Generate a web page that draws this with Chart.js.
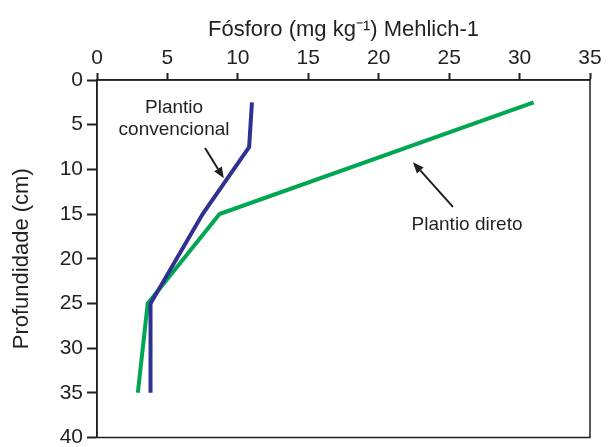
<!DOCTYPE html>
<html>
<head>
<meta charset="utf-8">
<script src="https://cdn.jsdelivr.net/npm/chart.js@4"></script>
<style>
  html, body { margin: 0; padding: 0; background: #fff; overflow: hidden; }
  #wrap { width: 608px; height: 452px; position: relative; }
</style>
</head>
<body>
<div id="wrap"><canvas id="chart"></canvas></div>
<script>
  // depth (cm) and phosphorus (mg/kg)
  const depthConv = [2.5, 7.5, 15, 25, 35];
  const phosConv = [11.0, 10.8, 7.5, 3.8, 3.8];
  const depthDireto = [2.5, 15, 25, 35];
  const phosDireto = [31.0, 8.7, 3.6, 2.9];
  const xTicks = [0, 5, 10, 15, 20, 25, 30, 35];
  const yTicks = [0, 5, 10, 15, 20, 25, 30, 35, 40];

  const ink = '#231f20';
  const blue = '#2e3192';
  const green = '#00a651';
  const font = '"Liberation Sans", Arial, sans-serif';

  // annotation text and arrows, in data units
  const labels = [
    { text: 'Plantio', x: 5.47, y: 3.1 },
    { text: 'convencional', x: 5.47, y: 5.6 },
    { text: 'Plantio direto', x: 26.27, y: 16.25 },
  ];
  const arrows = [
    { x0: 7.67, y0: 7.6, x1: 9.0, y1: 11.0 },
    { x0: 25.27, y0: 14.2, x1: 22.43, y1: 9.2 },
  ];

  function toPoints(xs, ys) {
    return xs.map((v, i) => ({ x: v, y: ys[i] }));
  }

  const frame = {
    id: 'frame',
    afterDatasetsDraw(chart) {
      const { ctx, chartArea: a, scales } = chart;
      const sx = scales.x, sy = scales.y;
      ctx.save();
      ctx.strokeStyle = ink;
      ctx.lineWidth = 1.5;
      ctx.strokeRect(a.left, a.top, a.right - a.left, a.bottom - a.top);

      ctx.fillStyle = ink;
      ctx.font = '19px ' + font;
      ctx.textAlign = 'center';
      ctx.textBaseline = 'middle';
      labels.forEach(l => ctx.fillText(l.text, sx.getPixelForValue(l.x), sy.getPixelForValue(l.y)));

      ctx.lineWidth = 2;
      arrows.forEach(ar => {
        const x0 = sx.getPixelForValue(ar.x0), y0 = sy.getPixelForValue(ar.y0);
        const x1 = sx.getPixelForValue(ar.x1), y1 = sy.getPixelForValue(ar.y1);
        const ang = Math.atan2(y1 - y0, x1 - x0);
        const len = 11, half = 4.5;
        const bx = x1 - len * Math.cos(ang), by = y1 - len * Math.sin(ang);
        ctx.beginPath();
        ctx.moveTo(x0, y0);
        ctx.lineTo(bx, by);
        ctx.stroke();
        ctx.beginPath();
        ctx.moveTo(x1, y1);
        ctx.lineTo(bx + half * Math.sin(ang), by - half * Math.cos(ang));
        ctx.lineTo(bx - half * Math.sin(ang), by + half * Math.cos(ang));
        ctx.closePath();
        ctx.fill();
      });
      ctx.restore();
    }
  };

  new Chart(document.getElementById('chart'), {
    type: 'line',
    data: {
      datasets: [
        {
          label: 'Plantio convencional',
          data: toPoints(phosConv, depthConv),
          borderColor: blue,
          borderWidth: 4,
          pointRadius: 0,
          fill: false,
          tension: 0,
        },
        {
          label: 'Plantio direto',
          data: toPoints(phosDireto, depthDireto),
          borderColor: green,
          borderWidth: 4,
          pointRadius: 0,
          fill: false,
          tension: 0,
        },
      ],
    },
    options: {
      responsive: true,
      maintainAspectRatio: false,
      animation: false,
      layout: { padding: { left: 0, right: 18, top: 0, bottom: 0 } },
      plugins: {
        legend: { display: false },
        tooltip: { enabled: false },
      },
      scales: {
        x: {
          type: 'linear',
          position: 'top',
          min: 0,
          max: 35,
          afterFit(scale) { scale.height = 80; },
          afterBuildTicks(scale) { scale.ticks = xTicks.map(v => ({ value: v })); },
          grid: { drawOnChartArea: false, drawTicks: true, tickLength: 7, tickWidth: 2, tickColor: ink },
          border: { display: true, color: ink, width: 1.5 },
          ticks: { color: ink, padding: 2, maxRotation: 0, font: { family: font, size: 21 } },
          title: {
            display: true,
            text: 'Fósforo (mg kg⁻¹) Mehlich-1',
            color: ink,
            padding: { top: 17, bottom: 0 },
            font: { family: font, size: 22 },
          },
        },
        y: {
          type: 'linear',
          reverse: true,
          min: 0,
          max: 40,
          afterFit(scale) { scale.width = 97; },
          afterBuildTicks(scale) { scale.ticks = yTicks.map(v => ({ value: v })); },
          grid: { drawOnChartArea: false, drawTicks: true, tickLength: 10, tickWidth: 2, tickColor: ink },
          border: { display: true, color: ink, width: 1.5 },
          ticks: { color: ink, padding: 4, font: { family: font, size: 21, lineHeight: 1 } },
          title: {
            display: true,
            text: 'Profundidade (cm)',
            color: ink,
            padding: { top: 9, bottom: 0 },
            font: { family: font, size: 22 },
          },
        },
      },
    },
    plugins: [frame],
  });
</script>
</body>
</html>
